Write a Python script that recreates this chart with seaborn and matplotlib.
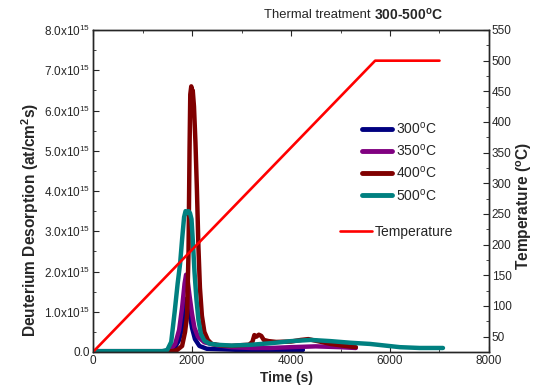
import matplotlib
matplotlib.use("Agg")
import matplotlib.pyplot as plt
from matplotlib.ticker import MultipleLocator, FuncFormatter
import pandas as pd
import seaborn as sns

sns.set_style("ticks")
plt.rcParams["font.family"] = ["Liberation Sans", "DejaVu Sans"]
plt.rcParams["mathtext.fontset"] = "custom"
plt.rcParams["mathtext.rm"] = "Liberation Sans"
plt.rcParams["mathtext.it"] = "Liberation Sans:italic"
plt.rcParams["mathtext.bf"] = "Liberation Sans:bold"
plt.rcParams["axes.linewidth"] = 1.0

# Desorption flux, in units of 1e15 at/cm^2 s, versus time (s)
t_300 = [0, 1450, 1550, 1650, 1740, 1800, 1840, 1870, 1890, 1920, 1960, 2000,
         2060, 2150, 2300, 3000, 3600, 4240]
d_300 = [0.02, 0.02, 0.04, 0.1, 0.3, 0.6, 1.0, 1.28, 1.32, 1.2, 0.9, 0.6,
         0.32, 0.15, 0.08, 0.05, 0.05, 0.05]

t_350 = [0, 1450, 1560, 1660, 1740, 1800, 1850, 1880, 1910, 1950, 2000, 2050,
         2120, 2250, 2500, 2800, 3200, 3600, 4000, 4500, 5000, 5310]
d_350 = [0.02, 0.02, 0.05, 0.2, 0.55, 1.1, 1.7, 1.92, 1.8, 1.4, 0.95, 0.6,
         0.38, 0.24, 0.17, 0.12, 0.1, 0.1, 0.12, 0.14, 0.12, 0.1]

t_400 = [0, 1600, 1700, 1800, 1860, 1900, 1930, 1950, 1965, 1985, 2000, 2015,
         2040, 2070, 2100, 2130, 2160, 2200, 2250, 2320, 2400, 2600, 2800, 3000,
         3150, 3220, 3260, 3300, 3350, 3400, 3450, 3550, 3700, 4000, 4200, 4350,
         4500, 4800, 5100, 5310]
d_400 = [0.02, 0.02, 0.05, 0.15, 0.5, 0.9, 2.5, 5.0, 6.4, 6.6, 6.45, 6.5,
         6.1, 5.2, 4.0, 2.6, 1.6, 0.9, 0.5, 0.3, 0.2, 0.16, 0.15, 0.17,
         0.18, 0.25, 0.42, 0.38, 0.43, 0.4, 0.3, 0.27, 0.25, 0.26, 0.3, 0.32,
         0.28, 0.2, 0.15, 0.12]

t_500 = [0, 1400, 1500, 1580, 1650, 1710, 1760, 1800, 1840, 1870, 1900, 1930,
         1960, 1990, 2020, 2050, 2090, 2130, 2180, 2250, 2350, 2500, 2800, 3200,
         3600, 4000, 4400, 4800, 5200, 5600, 5900, 6200, 6600, 7070]
d_500 = [0.02, 0.02, 0.05, 0.25, 1.0, 1.7, 2.2, 2.8, 3.35, 3.5, 3.45, 3.5,
         3.45, 3.3, 2.7, 2.0, 1.3, 0.8, 0.45, 0.28, 0.21, 0.18, 0.16, 0.18,
         0.22, 0.27, 0.3, 0.27, 0.23, 0.2, 0.16, 0.12, 0.1, 0.1]

# Heating ramp: 5 C/min up to 500 C, then held
t_temp = [0, 5700, 7000]
temp = [25, 500, 500]

series_names = ["300$^\\mathrm{o}$C", "350$^\\mathrm{o}$C",
                "400$^\\mathrm{o}$C", "500$^\\mathrm{o}$C"]
series_t = [t_300, t_350, t_400, t_500]
series_d = [d_300, d_350, d_400, d_500]
series_colors = ["#000080", "#800080", "#800000", "#008080"]

W, H = 540, 389
fig = plt.figure(figsize=(W / 100, H / 100), dpi=100)
ax = fig.add_axes([93 / W, 1 - 352 / H, (489 - 93) / W, (352 - 30) / H])

for name, tt, dd, col in zip(series_names, series_t, series_d, series_colors):
    df = pd.DataFrame({"t": tt, "d": dd})
    sns.lineplot(data=df, x="t", y="d", ax=ax, color=col, lw=3.2,
                 sort=False, estimator=None, label=name)

ax.set_xlim(0, 8000)
ax.set_ylim(0, 8)
ax.xaxis.set_major_locator(MultipleLocator(2000))
ax.xaxis.set_minor_locator(MultipleLocator(1000))
ax.yaxis.set_major_locator(MultipleLocator(1))
ax.yaxis.set_minor_locator(MultipleLocator(0.5))


def flux_fmt(v, pos):
    if abs(v) < 1e-9:
        return "0.0"
    return f"{v:.1f}x10$^{{15}}$"


ax.yaxis.set_major_formatter(FuncFormatter(flux_fmt))
ax.tick_params(which="both", direction="in", top=True, right=False,
               labelsize=8.5, pad=2)
ax.tick_params(which="major", length=4)
ax.tick_params(which="minor", length=2)
ax.set_xlabel("Time (s)", fontsize=10, fontweight="bold")
ax.set_ylabel("Deuterium Desorption (at/cm$^\\mathbf{2}$s)", fontsize=11.2,
              fontweight="bold")
ax.xaxis.set_label_coords((286 - 93) / 396, (352 - 371) / 322)
ax.yaxis.set_label_coords((41 - 93) / 396, (352 - 220) / 322)

leg = ax.legend(loc="upper left", bbox_to_anchor=(356 / W, 1 - 115 / H),
                bbox_transform=fig.transFigure, frameon=False, fontsize=10,
                handlelength=2.2, handletextpad=0.3, labelspacing=0.45,
                borderaxespad=0)
for line in leg.get_lines():
    line.set_linewidth(3.5)

ax2 = ax.twinx()
df_temp = pd.DataFrame({"t": t_temp, "T": temp})
sns.lineplot(data=df_temp, x="t", y="T", ax=ax2, color="#ff0000", lw=1.9,
             sort=False, estimator=None, label="Temperature")
ax2.set_ylim(25, 550)
ax2.yaxis.set_minor_locator(MultipleLocator(25))
ax2.set_yticks(range(50, 551, 50))
ax2.tick_params(which="both", direction="in", labelsize=8.5, pad=2)
ax2.tick_params(which="major", length=4)
ax2.tick_params(which="minor", length=2)
ax2.set_ylabel("Temperature ($^\\mathbf{o}$C)", fontsize=11.2,
               fontweight="bold")
ax2.yaxis.set_label_coords((514 - 93) / 396, (352 - 206) / 322)
ax2.set_xlabel("")
ax2.legend(loc="upper left", bbox_to_anchor=(334 / W, 1 - 219 / H),
           bbox_transform=fig.transFigure, frameon=False, fontsize=10,
           handlelength=2.3, handletextpad=0.25, borderaxespad=0)

# Title: plain prefix followed by a bold temperature range
t_bold = fig.text(443 / W, 1 - 15 / H, "300-500$^\\mathbf{o}$C", fontsize=10,
                  fontweight="bold", ha="right", va="center")
fig.canvas.draw()
bb = t_bold.get_window_extent()
fig.text(bb.x0 / fig.bbox.width, 1 - 15 / H, "Thermal treatment ",
         fontsize=9.4, ha="right", va="center")

fig.savefig("out.png", dpi=100)
